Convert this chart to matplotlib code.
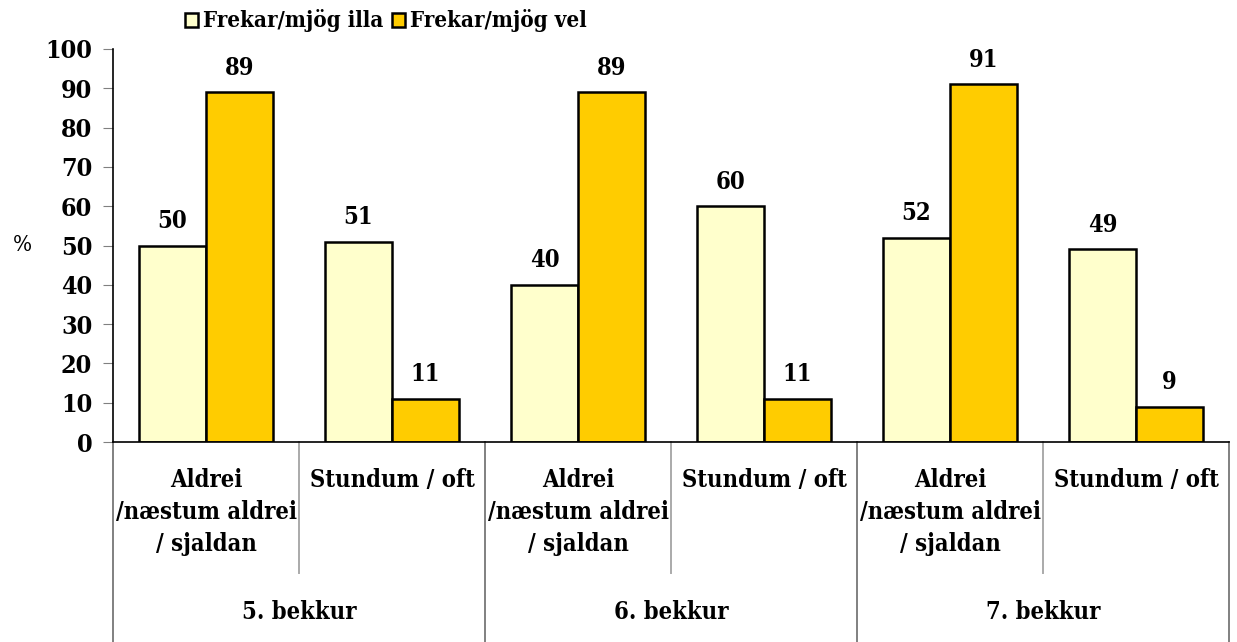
import matplotlib
matplotlib.use("Agg")
import matplotlib.pyplot as plt
import numpy as np

plt.rcParams["font.family"] = ["DejaVu Serif"]
plt.rcParams["font.stretch"] = "condensed"

# data
groups = ["5. bekkur", "6. bekkur", "7. bekkur"]
answers = ["Aldrei\n/næstum aldrei\n/ sjaldan", "Stundum / oft"]
series_names = ["Frekar/mjög illa", "Frekar/mjög vel"]
illa = [50, 51, 40, 60, 52, 49]
vel = [89, 11, 89, 11, 91, 9]
colors = ["#FFFFCC", "#FFCC00"]

W, H = 1237, 642
fig = plt.figure(figsize=(W / 100, H / 100), dpi=100)
ax = fig.add_axes([113 / W, (H - 442) / H, (1229 - 113) / W, (442 - 49) / H])

n = len(illa)
x = np.arange(n) + 0.5
bw = 0.36
b1 = ax.bar(x - bw / 2, illa, bw, color=colors[0], edgecolor="black", linewidth=1.8, label=series_names[0])
b2 = ax.bar(x + bw / 2, vel, bw, color=colors[1], edgecolor="black", linewidth=1.8, label=series_names[1])

for bars, vals in ((b1, illa), (b2, vel)):
    for b, v in zip(bars, vals):
        ax.annotate(f"{v}", (b.get_x() + b.get_width() / 2, v), xytext=(0, 9),
                    textcoords="offset points", ha="center", va="bottom",
                    fontsize=17, fontweight="bold")

ax.set_xlim(0, n)
ax.set_ylim(0, 100)
ax.set_yticks(range(0, 101, 10))
ax.tick_params(axis="y", direction="out", length=7, color="gray", labelsize=18, pad=8)
for lab in ax.get_yticklabels():
    lab.set_fontweight("bold")
ax.set_xticks([])
ax.spines["top"].set_visible(False)
ax.spines["right"].set_visible(False)
ax.spines["left"].set_linewidth(1.2)
ax.spines["bottom"].set_linewidth(1.2)

fig.text(22 / W, 1 - 245 / H, "%", fontsize=16, ha="center", va="center")

# multi-level category axis
trans = ax.get_xaxis_transform()
ax_h = 442 - 49
short = -(573 - 442) / ax_h
full = -(H - 442) / ax_h
for i in range(n + 1):
    outer = i % 2 == 0
    ax.plot([i, i], [0, full if outer else short], transform=trans,
            color="#808080" if outer else "#aaaaaa", lw=1.4, clip_on=False)

for i in range(n):
    ax.text(x[i], -(468 - 442) / ax_h, answers[i % 2], transform=trans, ha="center", va="top",
            fontsize=17, fontweight="bold", linespacing=1.42)
for g, name in enumerate(groups):
    ax.text(2 * g + 1, -(612 - 442) / ax_h, name, transform=trans, ha="center", va="center",
            fontsize=17, fontweight="bold")

fig.legend(handles=[b1, b2], loc="center left", bbox_to_anchor=(174 / W, 1 - 21 / H),
           ncol=2, frameon=False, handlelength=0.6, handleheight=0.6,
           handletextpad=0.2, columnspacing=0.4, borderpad=0, prop={"weight": "bold", "size": 16})

fig.savefig("out.png", dpi=100)
